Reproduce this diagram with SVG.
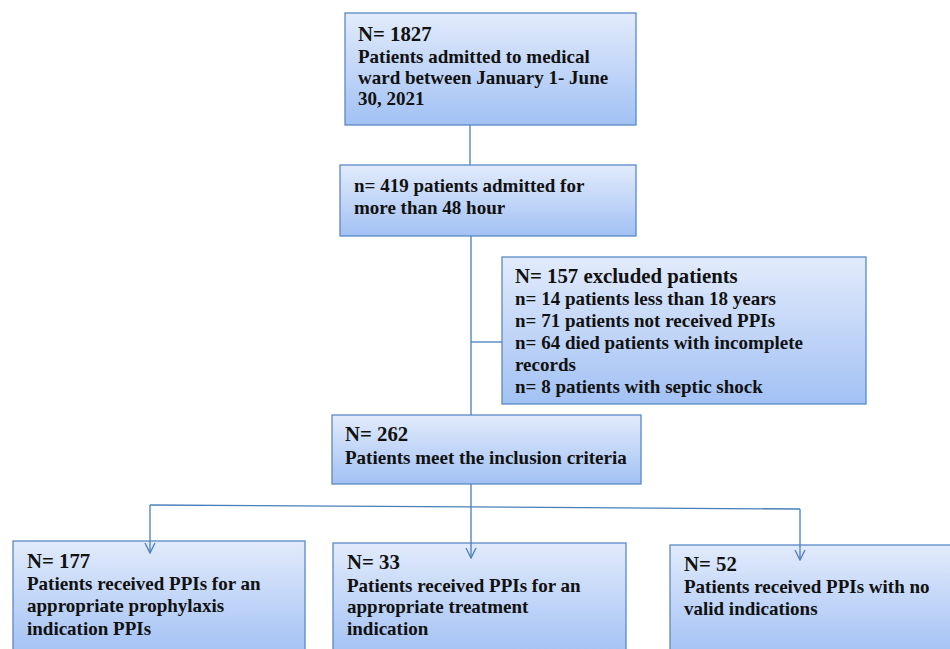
<svg xmlns="http://www.w3.org/2000/svg" width="950" height="649" viewBox="0 0 950 649">
<defs>
<linearGradient id="g" x1="0" y1="0" x2="0" y2="1">
<stop offset="0" stop-color="#e2ebfb"/>
<stop offset="1" stop-color="#a2c1f4"/>
</linearGradient>
<marker id="arr" viewBox="0 0 12 12" refX="11" refY="6" markerWidth="12" markerHeight="12" markerUnits="userSpaceOnUse" orient="auto">
<path d="M1,1 L11,6 L1,11" fill="none" stroke="#4a7ebb" stroke-width="1.3"/>
</marker>
</defs>
<style>
rect.b{fill:url(#g);stroke:#5a89c6;stroke-width:1.3}
text{font-family:"Liberation Serif","Times New Roman",serif;font-weight:bold;fill:#111;font-size:19px}
.h{font-size:20.8px}
.c{fill:none;stroke:#4a7ebb;stroke-width:1.3}
</style>
<rect width="950" height="649" fill="#fff"/>
<g id="n1827">
<rect class="b" x="345" y="13" width="291" height="112"/>
<text x="358" y="41" class="h">N= 1827</text>
<text x="358" y="63">Patients admitted to medical</text>
<text x="358" y="84">ward between January 1- June</text>
<text x="358" y="105">30, 2021</text>
</g>
<g id="n419">
<rect class="b" x="340" y="165" width="296" height="71"/>
<text x="354" y="192">n= 419 patients admitted for</text>
<text x="354" y="214">more than 48 hour</text>
</g>
<g id="excluded">
<rect class="b" x="502" y="257" width="364" height="147"/>
<text x="515" y="283" class="h">N= 157 excluded patients</text>
<text x="515" y="305">n= 14 patients less than 18 years</text>
<text x="515" y="327">n= 71 patients not received PPIs</text>
<text x="515" y="349">n= 64 died patients with incomplete</text>
<text x="515" y="371">records</text>
<text x="515" y="393">n= 8 patients with septic shock</text>
</g>
<g id="n262">
<rect class="b" x="332" y="415" width="309" height="69"/>
<text x="345" y="441" class="h">N= 262</text>
<text x="345" y="464">Patients meet the inclusion criteria</text>
</g>
<g id="n177">
<rect class="b" x="13" y="541" width="292" height="115"/>
<text x="27" y="568" class="h">N= 177</text>
<text x="27" y="590">Patients received PPIs for an</text>
<text x="27" y="612">appropriate prophylaxis</text>
<text x="27" y="635">indication PPIs</text>
</g>
<g id="n33">
<rect class="b" x="333" y="543" width="293" height="113"/>
<text x="347" y="569" class="h">N= 33</text>
<text x="347" y="592">Patients received PPIs for an</text>
<text x="347" y="613">appropriate treatment</text>
<text x="347" y="635">indication</text>
</g>
<g id="n52">
<rect class="b" x="670" y="545" width="290" height="111"/>
<text x="684" y="571" class="h">N= 52</text>
<text x="684" y="593">Patients received PPIs with no</text>
<text x="684" y="615">valid indications</text>
</g>
<g id="connectors">
<path class="c" d="M470,125 V165"/>
<path class="c" d="M471,236 V415"/>
<path class="c" d="M471,342 H502"/>
<path class="c" d="M471,484 V507"/>
<path class="c" d="M150,505 L800,509"/>
<path class="c" d="M150,505 V553" marker-end="url(#arr)"/>
<path class="c" d="M471,507 V558" marker-end="url(#arr)"/>
<path class="c" d="M800,509 V560" marker-end="url(#arr)"/>
</g>
</svg>
